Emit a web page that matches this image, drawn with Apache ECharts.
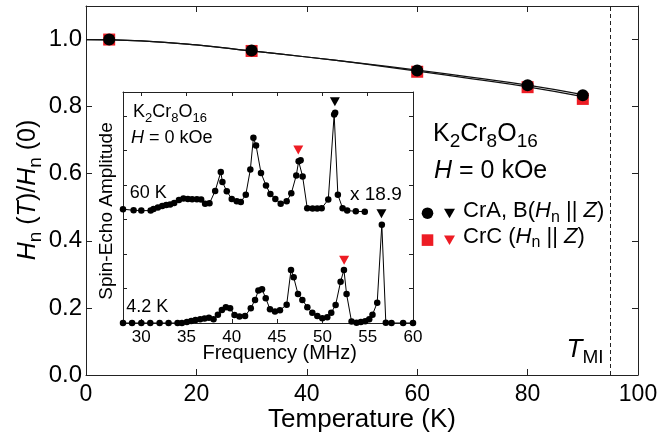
<!DOCTYPE html>
<html><head><meta charset="utf-8">
<script src="https://cdn.jsdelivr.net/npm/echarts@6.0.0/dist/echarts.min.js"></script>
<style>html,body{margin:0;padding:0;background:#fff}#c{width:663px;height:439px}</style>
</head><body><div id="c"></div>
<script>
// ---- main panel data ----
const tempsK = [4.2, 30, 60, 80, 90];
const hnCrAB = [1.0, 0.967, 0.908, 0.864, 0.834];
const hnCrC = [1.0, 0.966, 0.904, 0.858, 0.823];
const fitTemps = [0, 10, 20, 30, 40, 50, 60, 70, 80, 90];
const fitCrAB = [1.0, 0.996, 0.984, 0.966, 0.948, 0.929, 0.909, 0.887, 0.864, 0.836];
const fitCrC = [1.0, 0.996, 0.984, 0.966, 0.948, 0.928, 0.906, 0.883, 0.859, 0.830];
const tMI = 95;
// ---- inset data ----
const freq60K = [28.0, 29.17, 30.02, 31.05, 31.37, 31.85, 32.33, 32.77, 33.2, 33.65, 34.17, 34.67, 35.16, 35.63, 36.15, 36.62, 37.06, 37.54, 38.17, 38.79, 38.97, 39.45, 40.0, 40.55, 41.0, 41.55, 42.05, 42.39, 42.68, 43.23, 43.78, 44.26, 44.81, 45.4, 46.06, 46.57, 47.12, 47.38, 47.6, 47.82, 48.33, 48.92, 49.43, 49.92, 50.65, 51.3, 51.41, 51.71, 52.23, 52.74, 53.69, 54.68];
const amp60K = [3.30, 3.27, 3.26, 3.26, 3.31, 3.35, 3.39, 3.42, 3.44, 3.48, 3.57, 3.61, 3.60, 3.59, 3.59, 3.58, 3.46, 3.47, 3.83, 4.38, 4.09, 3.82, 3.60, 3.53, 3.51, 3.72, 4.45, 5.37, 5.15, 4.35, 3.99, 3.74, 3.60, 3.46, 3.53, 3.76, 4.28, 4.69, 4.72, 4.25, 3.33, 3.32, 3.32, 3.33, 3.58, 6.05, 6.10, 3.72, 3.33, 3.26, 3.24, 3.23];
const freq4K = [28.0, 29.0, 30.02, 31.01, 32.04, 33.03, 34.02, 34.5, 35.05, 35.53, 36.0, 36.52, 37.0, 37.48, 37.99, 38.47, 38.91, 39.35, 39.82, 40.3, 40.85, 41.47, 42.1, 42.57, 42.94, 43.34, 43.75, 44.22, 44.77, 45.32, 46.06, 46.54, 46.83, 47.31, 47.79, 48.34, 48.89, 49.44, 49.99, 50.54, 50.98, 51.46, 52.01, 52.38, 52.67, 53.22, 53.77, 54.25, 54.73, 55.17, 55.53, 56.05, 56.56, 57.0, 57.63, 58.91, 60.0];
const amp4K = [0, 0, 0, 0, 0, 0, 0, 0, 0.03, 0.06, 0.09, 0.11, 0.13, 0.15, 0.11, 0.24, 0.38, 0.46, 0.43, 0.23, 0.19, 0.20, 0.43, 0.67, 0.94, 0.98, 0.72, 0.40, 0.33, 0.37, 0.53, 1.54, 1.33, 0.84, 0.67, 0.46, 0.30, 0.20, 0.14, 0.17, 0.30, 0.52, 1.20, 1.54, 0.84, 0.04, 0.01, 0.03, 0.05, 0.11, 0.24, 0.59, 2.85, 0.01, 0, 0, 0];
const peakFreqCrAB = [51.38, 56.52];
const peakAmpCrAB = [6.42, 3.17];
const peakFreqCrC = [47.34, 52.4];
const peakAmpCrC = [5.02, 1.82];

const F = "'Liberation Sans', Arial, Helvetica, sans-serif";
const RED = '#ed1c24';
const AX = '#222';
const zip = (a, b) => a.map((v, i) => [v, b[i]]);

function rich(s) {
  const sub = Math.round(s * 0.74);
  const pad = Math.round(s * 0.6);
  return {
    n: {fontSize: s, lineHeight: s, fontFamily: F, fill: '#000'},
    i: {fontSize: s, lineHeight: s, fontFamily: F, fontStyle: 'italic', fill: '#000'},
    b: {fontSize: sub, lineHeight: sub, padding: [pad, 0, 0, 0], fontFamily: F, fill: '#000'}
  };
}
function txt(x, y, text, s, align, vAlign, rot) {
  return {
    type: 'text', x: x, y: y, z: 100, rotation: rot || 0,
    style: {x: 0, y: 0, text: text, rich: rich(s), fontSize: s, fontFamily: F, fill: '#000',
            align: align || 'left', verticalAlign: vAlign || 'top'}
  };
}

const chart = echarts.init(document.getElementById('c'), null, {renderer: 'canvas'});
const tickIn = (len) => ({show: true, inside: true, length: len, lineStyle: {color: AX, width: 1}});
const line = {show: true, onZero: false, lineStyle: {color: AX, width: 1}};

const option = {
  animation: false,
  backgroundColor: '#fff',
  grid: [
    {left: 86, right: 25, top: 6, bottom: 64, containLabel: false},
    {left: 123, right: 250, top: 92, bottom: 116, containLabel: false, show: true, backgroundColor: '#fff', borderWidth: 0}
  ],
  xAxis: [
    {type: 'value', gridIndex: 0, position: 'bottom', min: 0, max: 100, interval: 20,
     axisLine: line, axisTick: tickIn(6), splitLine: {show: false},
     axisLabel: {fontSize: 23, fontFamily: F, color: '#000', margin: 8}},
    {type: 'value', gridIndex: 0, position: 'top', min: 0, max: 100, interval: 20,
     axisLine: line, axisTick: tickIn(6), splitLine: {show: false}, axisLabel: {show: false}},
    {type: 'value', gridIndex: 1, position: 'bottom', min: 28, max: 60,
     axisLine: line, axisTick: tickIn(4), splitLine: {show: false},
     axisLabel: {fontSize: 17, fontFamily: F, color: '#000', margin: 6, showMinLabel: false}},
    {type: 'value', gridIndex: 1, position: 'top', min: 28, max: 60,
     axisLine: line, axisTick: tickIn(4), splitLine: {show: false}, axisLabel: {show: false}}
  ],
  yAxis: [
    {type: 'value', gridIndex: 0, position: 'left', min: 0, max: 1.1, interval: 0.2,
     axisLine: line, axisTick: tickIn(6), splitLine: {show: false},
     axisLabel: {fontSize: 24, fontFamily: F, color: '#000', margin: 4, showMaxLabel: false,
       formatter: v => v.toFixed(1)}},
    {type: 'value', gridIndex: 0, position: 'right', min: 0, max: 1.1, interval: 0.2,
     axisLine: line, axisTick: tickIn(6), splitLine: {show: false}, axisLabel: {show: false}},
    {type: 'value', gridIndex: 1, position: 'left', min: 0, max: 6.7, interval: 1,
     axisLine: line, axisTick: tickIn(4), splitLine: {show: false}, axisLabel: {show: false}},
    {type: 'value', gridIndex: 1, position: 'right', min: 0, max: 6.7, interval: 1,
     axisLine: line, axisTick: tickIn(4), splitLine: {show: false}, axisLabel: {show: false}}
  ],
  series: [
    {type: 'scatter', name: 'CrC', xAxisIndex: 0, yAxisIndex: 0, z: 2,
     symbol: 'rect', symbolSize: 12, itemStyle: {color: RED, opacity: 1}, data: zip(tempsK, hnCrC),
     markLine: {silent: true, symbol: ['none', 'none'], label: {show: false},
       lineStyle: {color: AX, width: 1, type: [4, 3]}, data: [{xAxis: tMI}]}},
    {type: 'line', name: 'fitC', xAxisIndex: 0, yAxisIndex: 0, z: 3, smooth: true,
     showSymbol: false, symbol: 'none', lineStyle: {color: '#111', width: 1.2}, data: zip(fitTemps, fitCrC)},
    {type: 'line', name: 'fitAB', xAxisIndex: 0, yAxisIndex: 0, z: 3, smooth: true,
     showSymbol: false, symbol: 'none', lineStyle: {color: '#111', width: 1.2}, data: zip(fitTemps, fitCrAB)},
    {type: 'scatter', name: 'CrAB', xAxisIndex: 0, yAxisIndex: 0, z: 4,
     symbol: 'circle', symbolSize: 12, itemStyle: {color: '#000', opacity: 1}, data: zip(tempsK, hnCrAB)},
    {type: 'line', name: '60K', xAxisIndex: 2, yAxisIndex: 2, z: 5,
     symbol: 'circle', symbolSize: 6.5, showAllSymbol: true, itemStyle: {color: '#000'},
     lineStyle: {color: '#000', width: 1}, data: zip(freq60K, amp60K)},
    {type: 'line', name: '4.2K', xAxisIndex: 2, yAxisIndex: 2, z: 5,
     symbol: 'circle', symbolSize: 6.5, showAllSymbol: true, itemStyle: {color: '#000'},
     lineStyle: {color: '#000', width: 1}, data: zip(freq4K, amp4K)},
    {type: 'scatter', name: 'peakAB', xAxisIndex: 2, yAxisIndex: 2, z: 6,
     symbol: 'triangle', symbolRotate: 180, symbolSize: [10, 9], itemStyle: {color: '#000', opacity: 1},
     data: zip(peakFreqCrAB, peakAmpCrAB)},
    {type: 'scatter', name: 'peakC', xAxisIndex: 2, yAxisIndex: 2, z: 6,
     symbol: 'triangle', symbolRotate: 180, symbolSize: [10, 9], itemStyle: {color: RED, opacity: 1},
     data: zip(peakFreqCrC, peakAmpCrC)}
  ],
  graphic: [
    // main axis titles
    txt(28, 190, '{i|H}{b|n}{n| (}{i|T}{n|)/}{i|H}{b|n}{n| (0)}', 25, 'center', 'middle', Math.PI / 2),
    txt(362, 407, '{n|Temperature (K)}', 26, 'center', 'top'),
    // big label
    txt(433, 122, '{n|K}{b|2}{n|Cr}{b|8}{n|O}{b|16}', 25),
    txt(434, 159, '{i|H}{n| = 0 kOe}', 25),
    // legend
    {type: 'circle', z: 100, shape: {cx: 427.5, cy: 213.2, r: 5.8}, style: {fill: '#000'}},
    {type: 'polygon', z: 100, shape: {points: [[444, 208.8], [455, 208.8], [449.5, 218.3]]}, style: {fill: '#000'}},
    {type: 'rect', z: 100, shape: {x: 421.7, y: 234.3, width: 11.6, height: 11.6}, style: {fill: RED}},
    {type: 'polygon', z: 100, shape: {points: [[444, 235.6], [455, 235.6], [449.5, 245.1]]}, style: {fill: RED}},
    txt(463, 200, '{n|CrA, B(}{i|H}{b|n}{n| || }{i|Z}{n|)}', 22),
    txt(463, 225.5, '{n|CrC (}{i|H}{b|n}{n| || }{i|Z}{n|)}', 22),
    // T_MI
    txt(566.5, 337, '{i|T}{b|MI}', 26),
    // inset texts
    txt(133, 103.5, '{n|K}{b|2}{n|Cr}{b|8}{n|O}{b|16}', 18),
    txt(131, 129.4, '{i|H}{n| = 0 kOe}', 18),
    txt(129.7, 184.4, '{n|60 K}', 18),
    txt(126.3, 297.7, '{n|4.2 K}', 18),
    txt(350, 185, '{n|x 18.9}', 19),
    txt(107, 211, '{n|Spin-Echo Amplitude}', 19, 'center', 'middle', Math.PI / 2),
    txt(279.7, 343, '{n|Frequency (MHz)}', 20, 'center', 'top')
  ]
};
chart.setOption(option);
</script>
</body></html>
